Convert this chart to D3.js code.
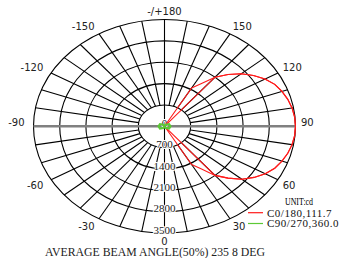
<!DOCTYPE html>
<html>
<head>
<meta charset="utf-8">
<script src="https://cdn.jsdelivr.net/npm/d3@7"></script>
<style>
  body { margin: 0; background: #fff; }
  svg { display: block; }
</style>
</head>
<body>
<div id="chart"></div>
<script>
// polar grid values (cd)
const ringValues = [0, 700, 1400, 2100, 2800, 3500];
const labelAngles = [0, 30, 60, 90, 120, 150, 180, -150, -120, -90, -60, -30];
const labelTexts = ["0", "30", "60", "90", "120", "150", "-/+180", "-150", "-120", "-90", "-60", "-30"];

// C0/180 plane (red), both halves drawn on the right side
const c0Angles = [35, 40, 45, 50, 55, 60, 65, 70, 75, 80, 85, 90, 95, 100, 105, 110, 115, 120, 125, 130, 135, 140, 145];
const c0Values = [0, 2100, 2400, 2700, 2920, 3110, 3250, 3340, 3410, 3460, 3490, 3500, 3490, 3460, 3410, 3340, 3250, 3100, 2900, 2680, 2400, 2100, 0];
const c180Angles = [25, 30, 35, 40, 45, 50, 55, 60, 65, 70, 75, 80, 85, 90, 95, 100, 105, 110, 115, 120, 125, 130, 135, 140, 145, 150, 155];
const c180Values = [0, 1450, 1700, 2100, 2400, 2700, 2920, 3110, 3250, 3340, 3410, 3460, 3490, 3500, 3490, 3460, 3410, 3340, 3250, 3100, 2900, 2680, 2400, 2100, 1700, 1450, 0];

// C90/270 plane (green), tiny
const c90Angles = [0, 30, 60, 90, 120, 150, 180];
const c90Values = [0, 60, 140, 160, 140, 60, 0];
const c270Angles = [0, -30, -60, -90, -120, -150, -180];
const c270Values = [0, 60, 140, 160, 140, 60, 0];

const legendNames = ["C0/180,111.7", "C90/270,360.0"];
const legendColors = ["#ff1a1a", "#5cc935"];

class PolarChart {
    constructor() {
        this.width = 341;
        this.height = 258;
        this.cx = 164.5;
        this.cy = 126.3;
        this.rx = 131;
        this.ry = 106.8;
        this.maxValue = 3500;
    }

    pt(angle, value) {
        let a = angle * Math.PI / 180;
        return [this.x(value * Math.sin(a)), this.y(value * Math.cos(a))];
    }

    draw() {
        let that = this;
        this.x = d3.scaleLinear().domain([-this.maxValue, this.maxValue]).range([this.cx - this.rx, this.cx + this.rx]);
        this.y = d3.scaleLinear().domain([-this.maxValue, this.maxValue]).range([this.cy - this.ry, this.cy + this.ry]);

        let svg = d3.select("#chart").append("svg")
            .attr("width", this.width)
            .attr("height", this.height);

        let grid = svg.append("g").attr("stroke", "#000").attr("stroke-width", 1.1).attr("fill", "none");

        // rings
        grid.selectAll("ellipse").data(ringValues.filter(d => d > 0)).enter().append("ellipse")
            .attr("cx", this.cx).attr("cy", this.cy)
            .attr("rx", d => that.x(d) - that.x(0))
            .attr("ry", d => that.y(d) - that.y(0));

        // spokes every 10 deg, from first ring out
        let spokes = d3.range(0, 360, 10).filter(a => a % 90 != 0);
        grid.selectAll("line.spoke").data(spokes).enter().append("line")
            .attr("class", "spoke")
            .attr("x1", d => that.pt(d, ringValues[1])[0])
            .attr("y1", d => that.pt(d, ringValues[1])[1])
            .attr("x2", d => that.pt(d, that.maxValue)[0])
            .attr("y2", d => that.pt(d, that.maxValue)[1]);

        grid.append("line")
            .attr("x1", this.pt(180, this.maxValue)[0]).attr("y1", this.pt(180, this.maxValue)[1])
            .attr("x2", this.pt(0, this.maxValue)[0]).attr("y2", this.pt(0, this.maxValue)[1]);

        svg.append("line")
            .attr("x1", this.pt(-90, this.maxValue)[0]).attr("y1", this.cy)
            .attr("x2", this.pt(90, this.maxValue)[0]).attr("y2", this.cy)
            .attr("stroke", "#808080").attr("stroke-width", 2.6);

        // ring labels (white halo so the grid does not hide them)
        svg.selectAll("text.ring").data(ringValues).enter().append("text")
            .attr("class", "ring")
            .attr("x", this.cx)
            .attr("y", d => that.y(d) + 0.5)
            .attr("text-anchor", "middle")
            .style("font-family", "Liberation Serif, serif")
            .style("font-size", "11px")
            .style("paint-order", "stroke")
            .attr("stroke", "#fff").attr("stroke-width", 2)
            .attr("fill", "#222")
            .text(d => d);

        // curves
        let line = d3.line().x(d => d[0]).y(d => d[1]);
        let curves = [
            {angles: c0Angles, values: c0Values, color: legendColors[0], w: 1.1},
            {angles: c180Angles, values: c180Values, color: legendColors[0], w: 1.1},
            {angles: c90Angles, values: c90Values, color: legendColors[1], w: 2.2},
            {angles: c270Angles, values: c270Values, color: legendColors[1], w: 2.2}
        ];
        svg.selectAll("path.curve").data(curves).enter().append("path")
            .attr("class", "curve")
            .attr("fill", "none")
            .attr("stroke", d => d.color)
            .attr("stroke-width", d => d.w)
            .attr("d", d => line(d.angles.map((a, i) => that.pt(a, d.values[i]))));

        // angle labels
        svg.selectAll("text.ang").data(labelAngles).enter().append("text")
            .attr("class", "ang")
            .attr("x", d => {
                let r = d < 0 ? 140 : 136.5;
                return that.cx + r * Math.sin(d * Math.PI / 180);
            })
            .attr("y", d => {
                let c = Math.cos(d * Math.PI / 180);
                let py = that.cy + 111.5 * c;
                return c > 0.01 ? py + 7.3 : py;
            })
            .attr("text-anchor", d => (d == 0 || d == 180) ? "middle" : (d > 0 ? "start" : "end"))
            .style("font-family", "DejaVu Sans, sans-serif")
            .style("font-size", "10px")
            .attr("fill", "#222")
            .text((d, i) => labelTexts[i]);

        // legend
        svg.append("text")
            .attr("x", 285).attr("y", 204.5)
            .attr("textLength", 28).attr("lengthAdjust", "spacingAndGlyphs")
            .style("font-family", "Liberation Serif, serif")
            .style("font-size", "10px")
            .text("UNIT:cd");

        let leg = svg.selectAll("g.leg").data(legendNames).enter().append("g")
            .attr("class", "leg")
            .attr("transform", (d, i) => "translate(0," + (212.7 + i * 10.8) + ")");
        leg.append("line")
            .attr("x1", 248).attr("x2", 263)
            .attr("stroke", (d, i) => legendColors[i]).attr("stroke-width", 1.2);
        leg.append("text")
            .attr("x", 267).attr("y", 3.8)
            .style("font-family", "Liberation Serif, serif")
            .style("font-size", "11px")
            .style("letter-spacing", "0.5px")
            .attr("fill", "#111")
            .text(d => d);

        svg.append("text")
            .attr("x", 45).attr("y", 256)
            .attr("textLength", 220).attr("lengthAdjust", "spacingAndGlyphs")
            .style("font-family", "Liberation Serif, serif")
            .style("font-size", "11.5px")
            .attr("fill", "#222")
            .text("AVERAGE BEAM ANGLE(50%) 235 8 DEG");
    }
}

let chart = new PolarChart();
chart.draw();
</script>
</body>
</html>
